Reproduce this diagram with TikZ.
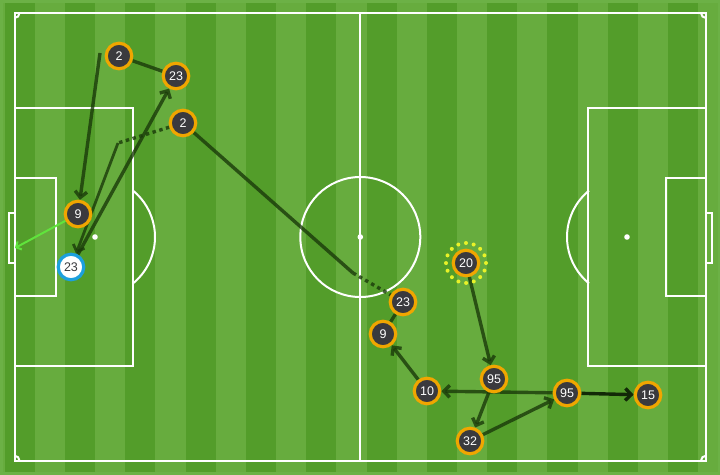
\documentclass[tikz,border=0pt]{standalone}
\usepackage{fontspec}
\setsansfont{Liberation Sans}
\usetikzlibrary{arrows.meta}
\pgfdeclarelayer{rasen}
\pgfdeclarelayer{paesse}
\pgfsetlayers{rasen,paesse,main}
\definecolor{rasenhell}{RGB}{103,172,62}
\definecolor{rasendunkel}{RGB}{83,157,42}
\definecolor{rasenrand}{RGB}{108,177,70}
\definecolor{passgruen}{RGB}{26,58,10}
\definecolor{schussgruen}{RGB}{96,228,60}
\definecolor{ring}{RGB}{240,166,0}
\definecolor{ringblau}{RGB}{28,160,222}
\definecolor{scheibe}{RGB}{58,58,62}
\definecolor{punktgelb}{RGB}{232,242,40}

\tikzset{
  spieler/.style={circle, fill=scheibe, draw=ring, line width=3.2pt, minimum size=25.5pt,
    inner sep=0pt, text=white, font=\sffamily\fontsize{12.5}{12.5}\selectfont},
  torwart/.style={spieler, fill=white, draw=ringblau, text=scheibe},
  pass/.style={draw=passgruen, line width=3.4pt, draw opacity=0.8},
  passpfeil/.style={pass, -{Straight Barb[length=6pt,width=12pt]}},
  lauf/.style={pass, dash pattern=on 3.5pt off 3.5pt},
  schuss/.style={draw=schussgruen, line width=2pt, -{Straight Barb[length=4pt,width=9pt]}},
  linie/.style={draw=white, line width=2pt},
  gelbring/.style={draw=punktgelb, line width=4pt, line cap=round, dash pattern=on 0pt off 7.85pt}
}

\begin{document}
\begin{tikzpicture}[x=1pt, y=-1pt]
    \useasboundingbox (0,0) rectangle (720,474);

    \begin{pgfonlayer}{rasen}
    % Rasen
    \fill[rasenhell] (0,0) rectangle (720,474);
    \foreach \k in {0,...,11}
        \fill[rasendunkel] ({4.7+60.3*\k},0) rectangle ++(30.15,474);
    \draw[rasenrand, line width=5pt] (0,0) rectangle (720,474);
    % Spielfeld
    \draw[linie] (14.5,13) rectangle (706,460.7);
    \draw[linie] (360.3,13) -- (360.3,460.7);
    \draw[linie] (360.3,237) circle (60pt);
    \fill[white] (360.3,237) circle (2.8pt);
    % links
    \draw[linie] (14.5,107.5) rectangle (133,366);
    \draw[linie] (14.5,178) rectangle (55.5,296);
    \draw[linie] (9,213) rectangle (14.5,263);
    \fill[white] (95,237) circle (2.8pt);
    \draw[linie] (95,237) ++(-50.7:60pt) arc[start angle=-50.7, end angle=50.7, radius=60pt];
    % rechts
    \draw[linie] (588,107.5) rectangle (706,366);
    \draw[linie] (666,178) rectangle (706,296);
    \draw[linie] (706,213) rectangle (711.5,263);
    \fill[white] (627,237) circle (2.8pt);
    \draw[linie] (627,237) ++(129.3:60pt) arc[start angle=129.3, end angle=230.7, radius=60pt];
    % Ecken
    \draw[linie] (14.5,13) ++(-90:5pt) arc[start angle=-90, end angle=0, radius=5pt];
    \draw[linie] (706,13) ++(180:5pt) arc[start angle=180, end angle=270, radius=5pt];
    \draw[linie] (14.5,460.7) ++(0:5pt) arc[start angle=0, end angle=90, radius=5pt];
    \draw[linie] (706,460.7) ++(90:5pt) arc[start angle=90, end angle=180, radius=5pt];
    \end{pgfonlayer}

    % Spieler
    \node[spieler] (p2a) at (119,56) {2};
    \node[spieler] (p23a) at (176,76) {23};
    \node[spieler] (p2b) at (183,123) {2};
    \node[spieler] (p9a) at (78,214) {9};
    \node[torwart] (p23k) at (71,267) {23};
    \node[spieler] (p20) at (466,263) {20};
    \node[spieler] (p23b) at (403,302) {23};
    \node[spieler] (p9b) at (383,334) {9};
    \node[spieler] (p10) at (427,391) {10};
    \node[spieler] (p95a) at (494,379) {95};
    \node[spieler] (p95b) at (567,393) {95};
    \node[spieler] (p15) at (648,395) {15};
    \node[spieler] (p32) at (470,441) {32};
    \draw[gelbring] (p20.center) circle (20pt);

    % Hilfspunkte
    \coordinate (start) at (100,53);
    \coordinate (knick) at (118,143);
    \coordinate (mitte) at (353,273);
    \coordinate (tor) at (15,248);

    \begin{pgfonlayer}{paesse}
    % Paesse links
    \draw[passpfeil] (start) -- (p9a);
    \draw[pass] (p2a) -- (p23a);
    \draw[passpfeil] (p23k) -- (p23a);
    \draw[lauf] (p2b) -- (knick);
    \draw[passpfeil, line width=2.8pt] (knick) -- (p23k);
    \draw[schuss] (p9a) -- (tor);
    % Paesse Mitte
    \draw[pass] (p2b) -- (mitte);
    \draw[lauf] (mitte) -- (p23b);
    \draw[pass] (p23b) -- (p9b);
    % Paesse rechts
    \draw[passpfeil] (p10) -- (p9b);
    \draw[passpfeil] (p20) -- (p95a);
    \draw[passpfeil] (p95a) -- (p32);
    \draw[passpfeil] (p32) -- (p95b);
    \draw[passpfeil] (p95b) -- (p10);
    \draw[passpfeil, draw opacity=1, passgruen!70!black] (p95b) -- (p15);
    \end{pgfonlayer}
\end{tikzpicture}
\end{document}
